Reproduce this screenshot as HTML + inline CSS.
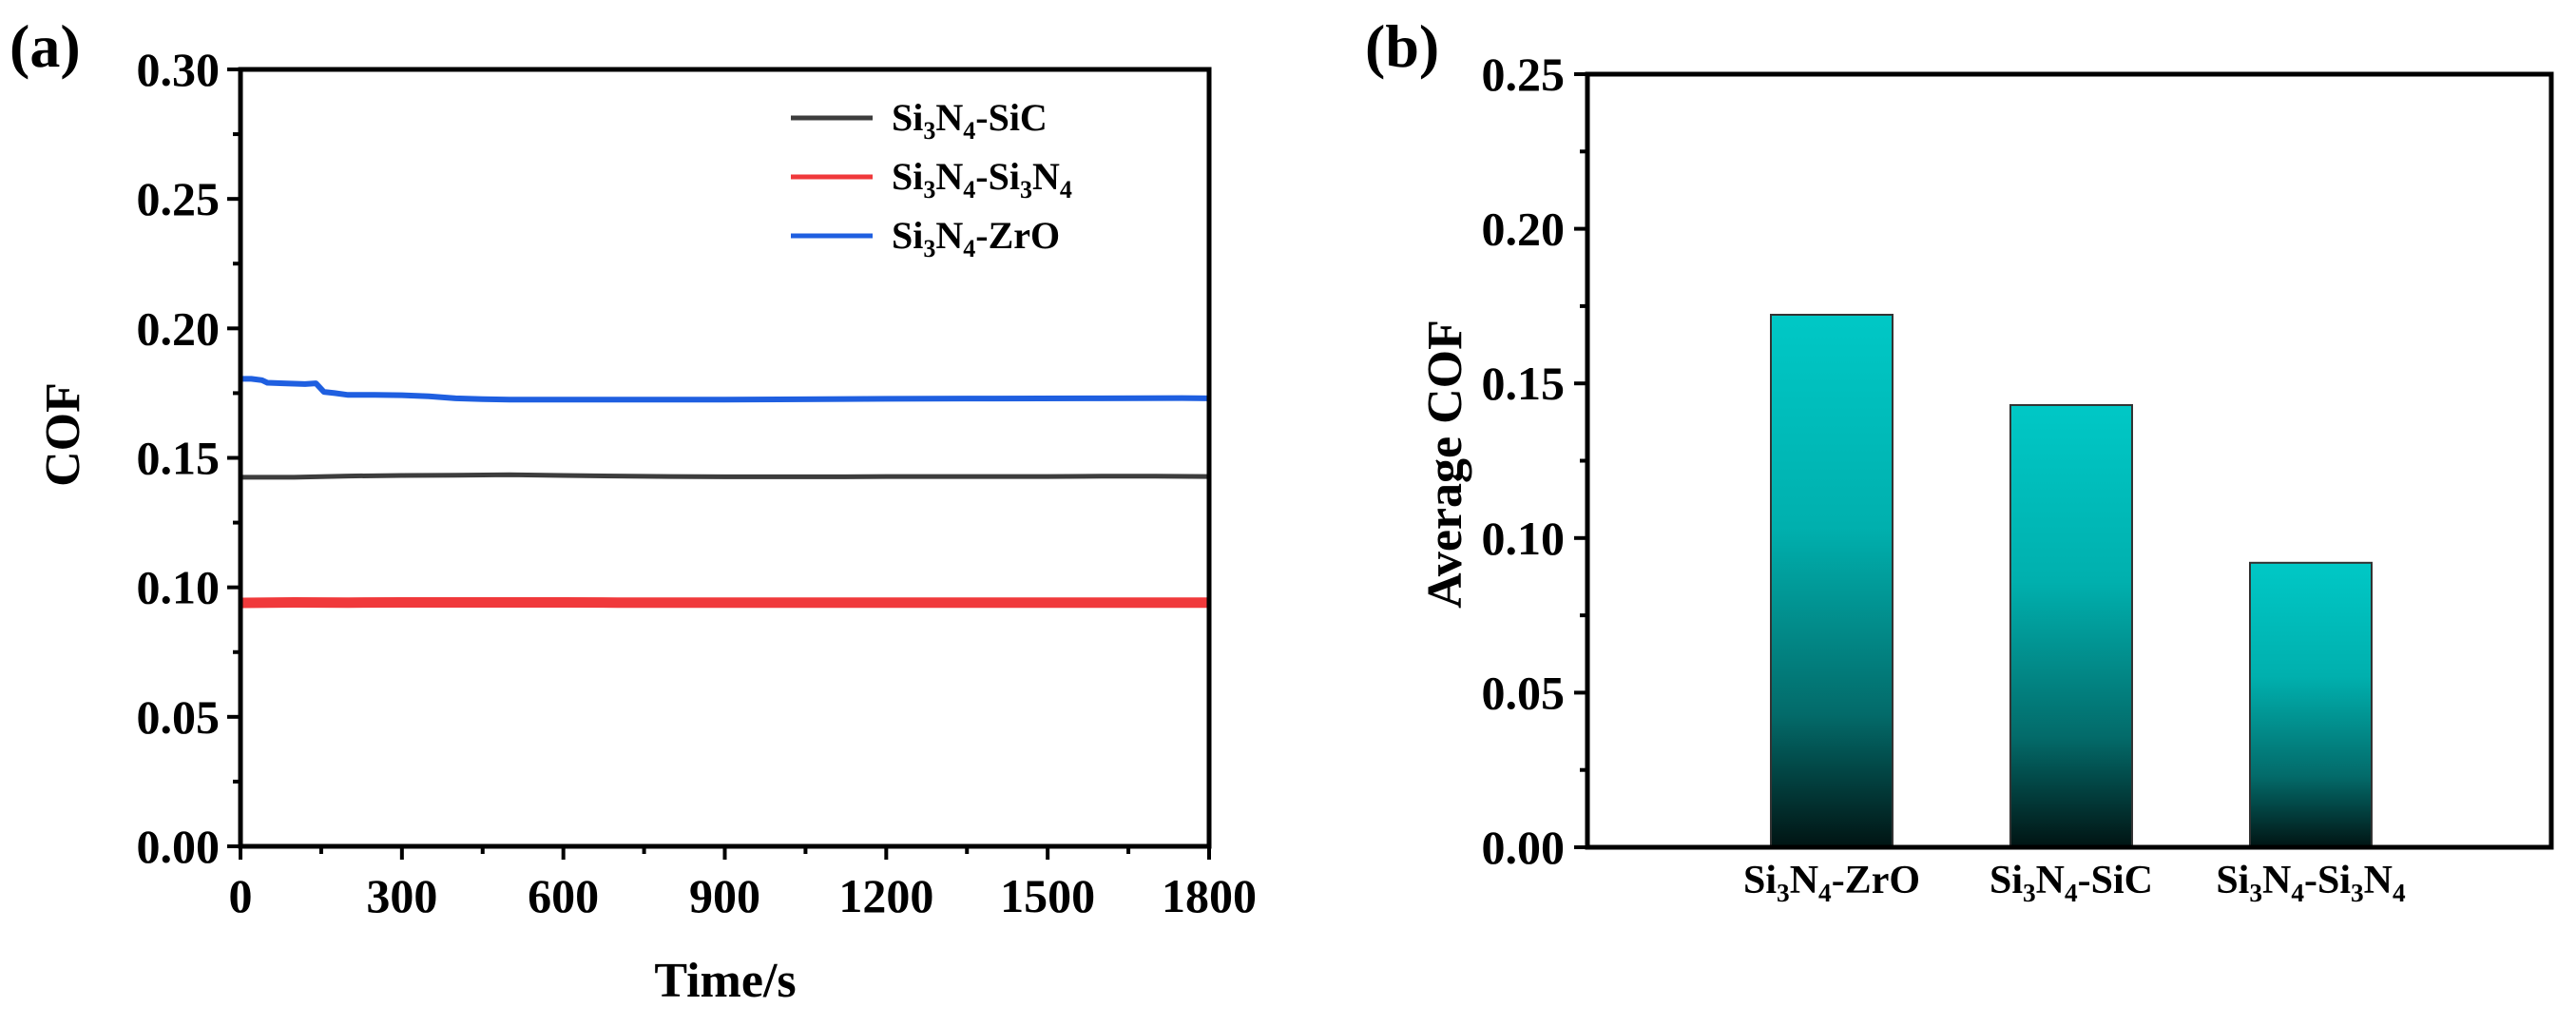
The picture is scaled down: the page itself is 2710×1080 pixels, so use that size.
<!DOCTYPE html>
<html><head><meta charset="utf-8"><style>
html,body{margin:0;padding:0;background:#fff}
svg{display:block}
text{font-family:"Liberation Serif",serif;font-weight:bold;fill:#000}
</style></head><body>
<svg id="fig" width="2710" height="1080" viewBox="0 0 2710 1080" xmlns="http://www.w3.org/2000/svg">
<defs>
<linearGradient id="barGrad" x1="0" y1="0" x2="0" y2="1">
<stop offset="0" stop-color="#00c8c6"/><stop offset="0.4" stop-color="#00b0ae"/><stop offset="0.75" stop-color="#036b6a"/><stop offset="1" stop-color="#011413"/>
</linearGradient>
</defs>
<g id="panelA"></g>
<g id="panelB"></g>
</svg>
<script>
// Panel (a) data
const timeTicks = [0,300,600,900,1200,1500,1800];
const cofTicks = [0,0.05,0.10,0.15,0.20,0.25,0.30];
const cofTickLabels = ["0.00","0.05","0.10","0.15","0.20","0.25","0.30"];
const seriesNames = ["Si3N4-SiC","Si3N4-Si3N4","Si3N4-ZrO"];
const timeSiC = [0,100,200,300,400,500,600,700,800,900,1000,1100,1200,1300,1400,1500,1600,1700,1800];
const cofSiC = [0.1425,0.1425,0.143,0.1432,0.1433,0.1435,0.1432,0.143,0.1428,0.1427,0.1427,0.1427,0.1428,0.1428,0.1428,0.1428,0.1429,0.1429,0.1428];
const timeSi3N4 = [0,100,200,300,400,500,600,700,800,900,1000,1100,1200,1300,1400,1500,1600,1700,1800];
const cofSi3N4 = [0.094,0.0942,0.0941,0.0942,0.0942,0.0942,0.0942,0.0941,0.0941,0.0941,0.0941,0.0941,0.0941,0.0941,0.0941,0.0941,0.0941,0.0941,0.0941];
const timeZrO = [0,20,40,50,80,120,140,155,175,200,250,300,350,400,450,500,600,700,800,900,1000,1200,1400,1600,1750,1800];
const cofZrO = [0.1805,0.1805,0.180,0.179,0.1788,0.1785,0.1788,0.1755,0.175,0.1743,0.1743,0.1742,0.1738,0.173,0.1727,0.1725,0.1725,0.1725,0.1725,0.1725,0.1726,0.1728,0.1729,0.173,0.1731,0.173];
// Panel (b) data
const barCategories = ["Si3N4-ZrO","Si3N4-SiC","Si3N4-Si3N4"];
const barValues = [0.1722,0.143,0.092];
const avgTicks = [0,0.05,0.10,0.15,0.20,0.25];
const avgTickLabels = ["0.00","0.05","0.10","0.15","0.20","0.25"];

const NS="http://www.w3.org/2000/svg";
function mk(tag,attrs,parent){const e=document.createElementNS(NS,tag);for(const k in attrs)e.setAttribute(k,attrs[k]);parent.appendChild(e);return e;}
function chem(t,s){
  const parts=s.split(/(\d)/);
  let lowered=false;
  parts.forEach(p=>{if(!p)return;const ts=mk('tspan',{},t);
    if(/\d/.test(p)){ts.setAttribute('font-size','0.65em');ts.setAttribute('dy','9');lowered=true;ts.textContent=p;}
    else{ if(lowered){ts.setAttribute('dy','-9');lowered=false;} ts.textContent=p;}});
}

// ---------- Panel A ----------
const A=document.getElementById('panelA');
const aL=253,aR=1272,aT=73,aB=890;
const ax=t=>aL+(t-0)/(1800-0)*(aR-aL);
const ay=v=>aB-(v-0)/(0.30-0)*(aB-aT);
const lineColors=["#3d3d3d","#f0393b","#1f5fe0"];
const lineWidths=[5,11,6];
const xs=[timeSiC,timeSi3N4,timeZrO], ys=[cofSiC,cofSi3N4,cofZrO];
const seriesKeys=["sic","si3n4","zro"];
for(let s=0;s<3;s++){
  const d=xs[s].map((t,i)=>(i?'L':'M')+ax(t).toFixed(1)+','+ay(ys[s][i]).toFixed(1)).join(' ');
  const p=mk('path',{d:d,fill:'none',stroke:lineColors[s],'stroke-width':lineWidths[s],'stroke-linejoin':'round'},A);
  
  
}
const frameA=mk('rect',{x:aL,y:aT,width:aR-aL,height:aB-aT,fill:'none',stroke:'#000','stroke-width':5},A);


cofTicks.forEach((v,i)=>{
  const y=ay(v);
  mk('line',{x1:aL-14,x2:aL,y1:y,y2:y,stroke:'#000','stroke-width':4},A);
  const t=mk('text',{x:aL-22,y:y+17,'text-anchor':'end','font-size':50},A);
  t.textContent=cofTickLabels[i];
  
  
  if(i<cofTicks.length-1){const ym=ay(v+0.025);mk('line',{x1:aL-8,x2:aL,y1:ym,y2:ym,stroke:'#000','stroke-width':4},A);}
});
timeTicks.forEach((v,i)=>{
  const x=ax(v);
  mk('line',{x1:x,x2:x,y1:aB,y2:aB+14,stroke:'#000','stroke-width':4},A);
  const t=mk('text',{x:x,y:aB+69,'text-anchor':'middle','font-size':50},A);
  t.textContent=String(v);
  
  
  if(i<timeTicks.length-1){const xm=ax(v+150);mk('line',{x1:xm,x2:xm,y1:aB,y2:aB+8,stroke:'#000','stroke-width':4},A);}
});
let tt=mk('text',{x:763,y:1048,'text-anchor':'middle','font-size':52},A);tt.textContent='Time/s';


tt=mk('text',{x:0,y:0,'text-anchor':'middle','font-size':52,transform:'translate(83,457) rotate(-90)'},A);tt.textContent='COF';


tt=mk('text',{x:10,y:70,'font-size':64},A);tt.textContent='(a)';


// legend
const legY=[124,186,248];
const legendLabels=["Si3N4-SiC","Si3N4-Si3N4","Si3N4-ZrO"];
for(let s=0;s<3;s++){
  const g=mk('g',{},A);
  
  
  mk('line',{x1:832,x2:918,y1:legY[s],y2:legY[s],stroke:lineColors[s],'stroke-width':5},g);
  const t=mk('text',{x:938,y:legY[s]+13,'font-size':40},g);
  chem(t,legendLabels[s]);
}

// ---------- Panel B ----------
const B=document.getElementById('panelB');
const bL=1670,bR=2684,bT=78,bB=891;
const by=v=>bB-(v-0)/(0.25-0)*(bB-bT);
const bx=i=>1927+i*252;
const barW=128;
barValues.forEach((v,i)=>{
  const r=mk('rect',{x:bx(i)-barW/2,y:by(v),width:barW,height:bB-by(v),fill:'url(#barGrad)',stroke:'#333','stroke-width':2},B);
  
  
  const t=mk('text',{x:bx(i),y:bB+48,'text-anchor':'middle','font-size':42},B);
  chem(t,barCategories[i]);
  
  
});
const frameB=mk('rect',{x:bL,y:bT,width:bR-bL,height:bB-bT,fill:'none',stroke:'#000','stroke-width':5},B);


avgTicks.forEach((v,i)=>{
  const y=by(v);
  mk('line',{x1:bL-14,x2:bL,y1:y,y2:y,stroke:'#000','stroke-width':4},B);
  const t=mk('text',{x:bL-24,y:y+17,'text-anchor':'end','font-size':50},B);
  t.textContent=avgTickLabels[i];
  
  
  if(i<avgTicks.length-1){const ym=by(v+0.025);mk('line',{x1:bL-8,x2:bL,y1:ym,y2:ym,stroke:'#000','stroke-width':4},B);}
});
tt=mk('text',{x:0,y:0,'text-anchor':'middle','font-size':52,transform:'translate(1537,488) rotate(-90)'},B);tt.textContent='Average COF';


tt=mk('text',{x:1436,y:70,'font-size':64},B);tt.textContent='(b)';


</script>
</body></html>
